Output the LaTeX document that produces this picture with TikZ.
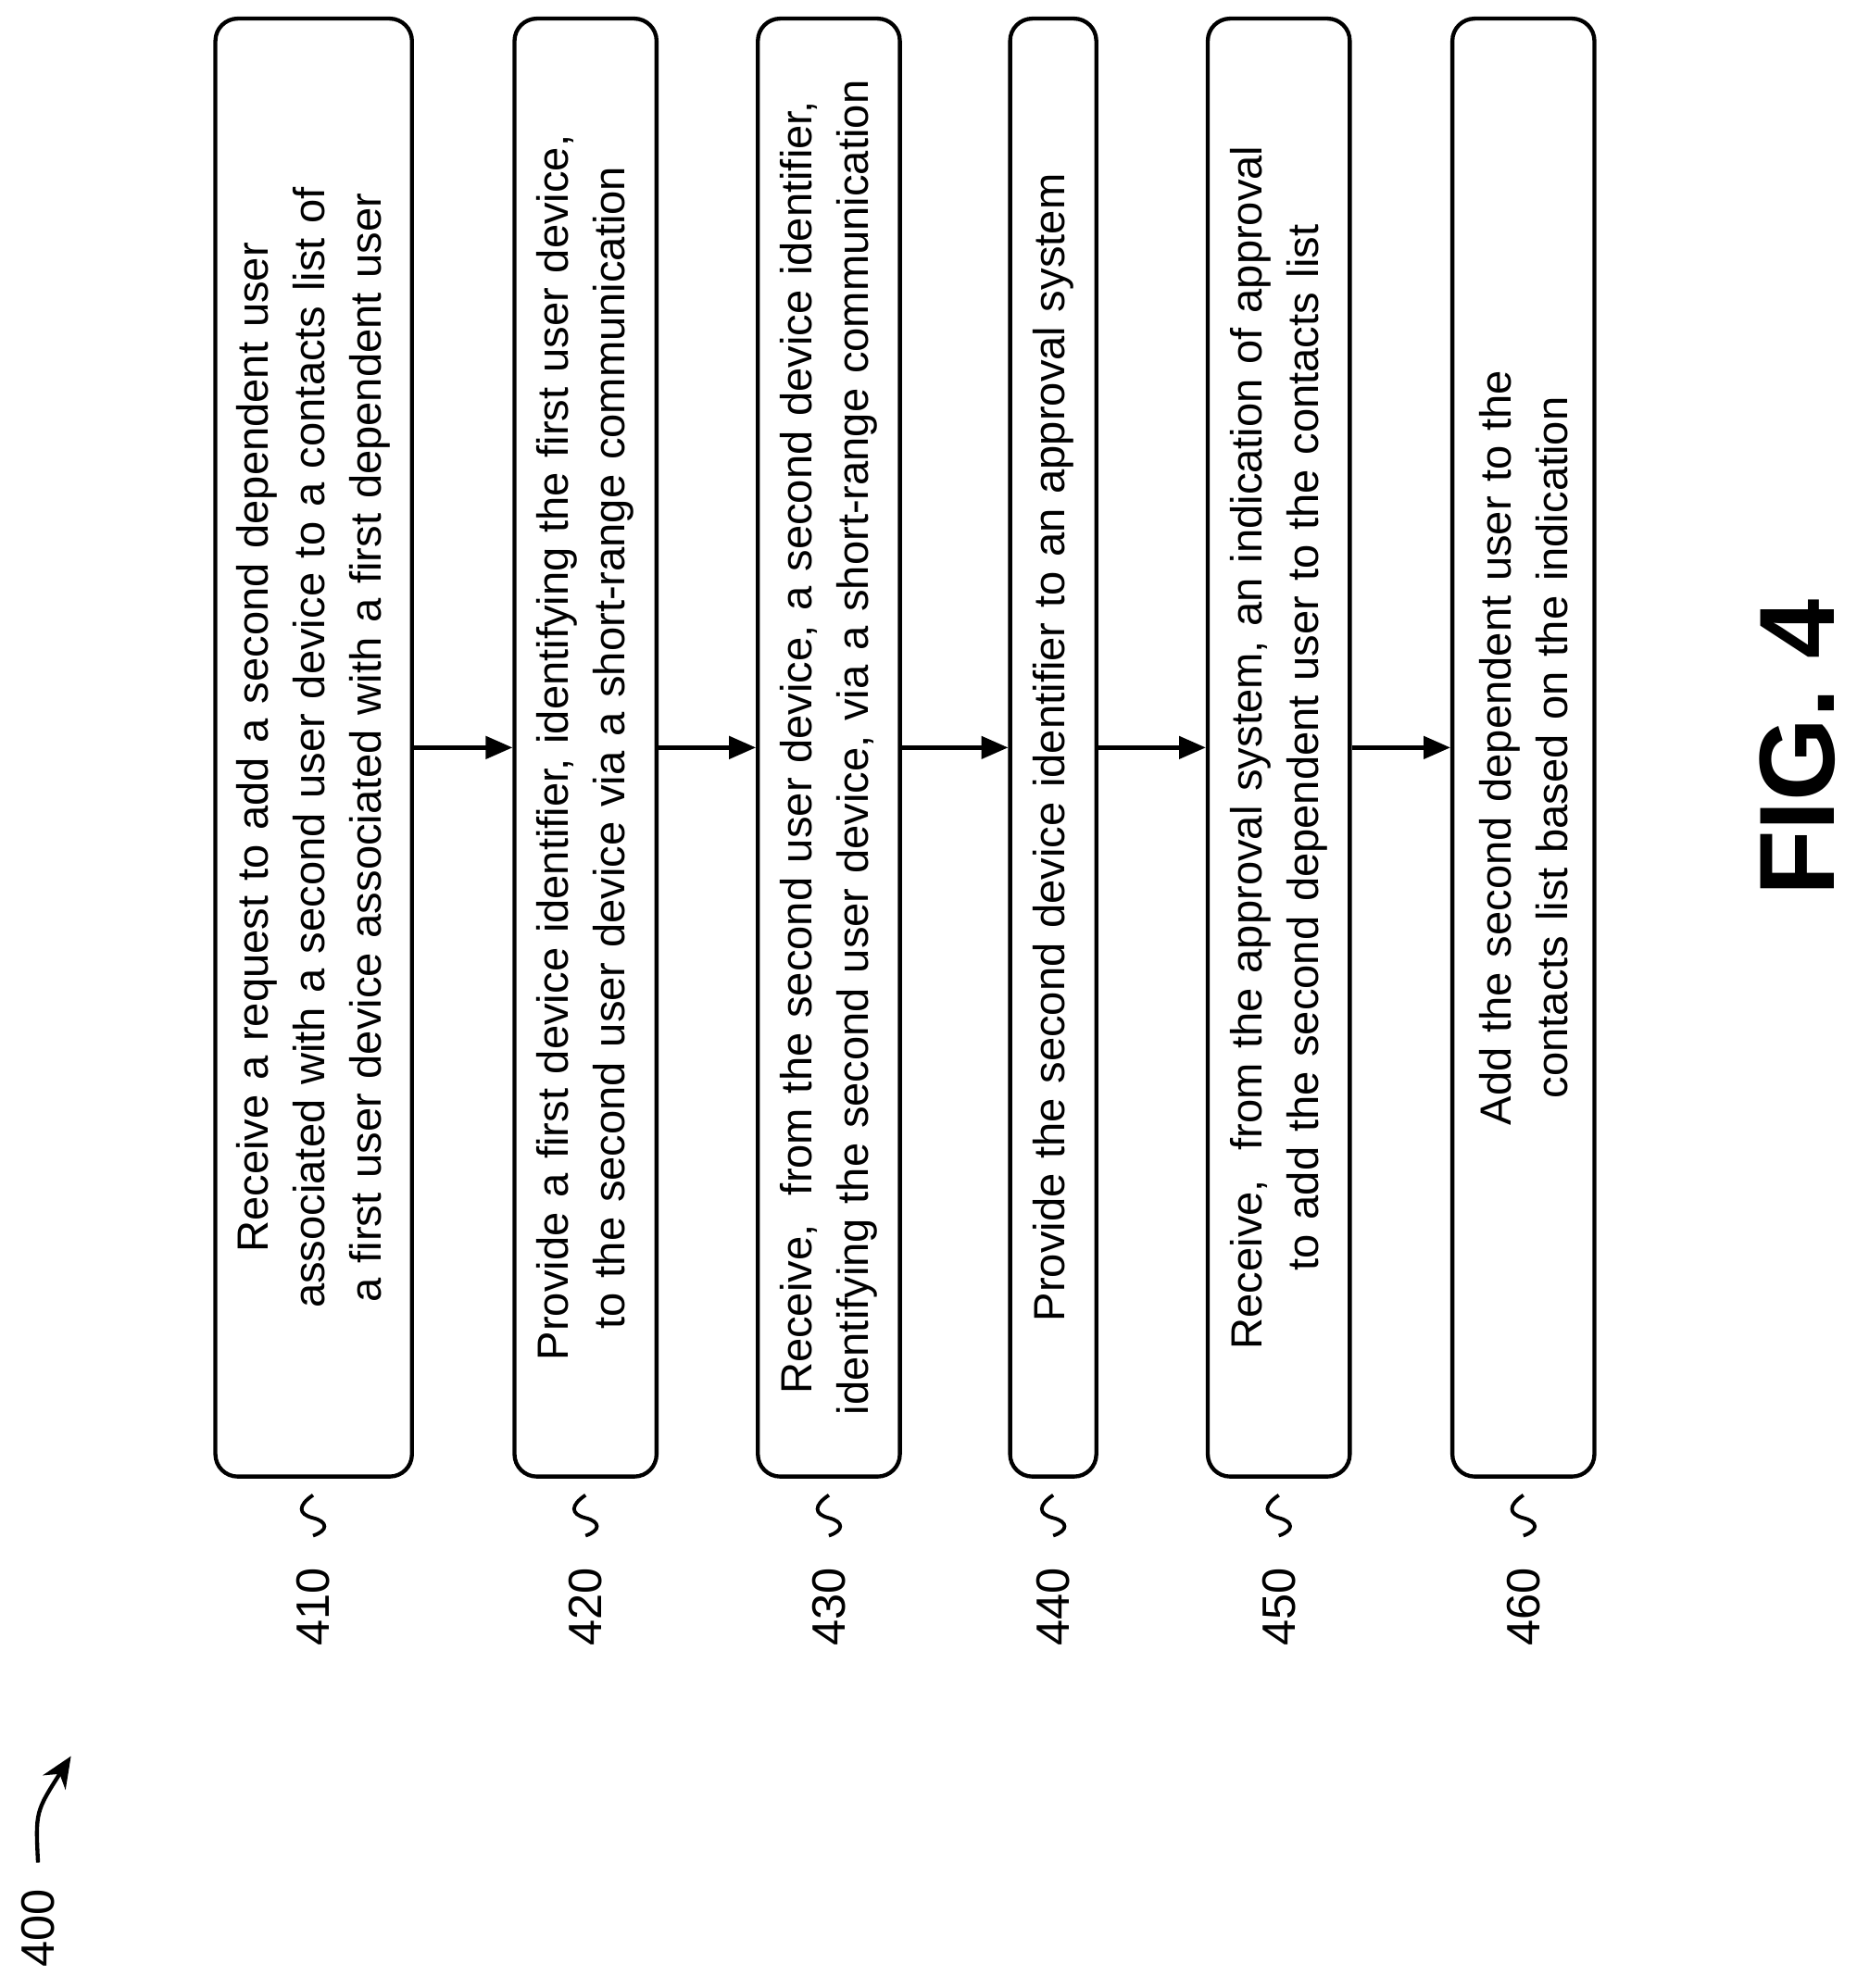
\documentclass[tikz,border=0pt]{standalone}
\usepackage{fontspec}
\setmainfont{Liberation Sans}
\usetikzlibrary{arrows.meta}
\begin{document}
\begin{tikzpicture}[x=0.01cm,y=-0.01cm,
  stepbox/.style={draw,line width=0.9pt,rounded corners=5pt,rotate=90,minimum width=11.5cm,
    text width=11.3cm,align=center,inner sep=2pt,font=\fontsize{9.8}{12.7}\selectfont,
    execute at begin node={\hyphenpenalty=10000\relax\exhyphenpenalty=10000\relax}},
  flow/.style={-{Triangle[length=6pt,width=5pt]},line width=0.9pt},
  lbl/.style={rotate=90,font=\fontsize{10.5}{12}\selectfont},
  sq/.style={line width=0.8pt}]
\useasboundingbox (0,0) rectangle (1465,1569);
\node[stepbox,minimum height=1.55cm] (s410) at (247.5,590) {Receive a request to add a second dependent user associated with a second user device to a contacts list of a first user device associated with a first dependent user};
\node[stepbox,minimum height=1.12cm] (s420) at (462,590) {Provide a first device identifier, identifying the first user device, to the second user device via a short-range communication};
\node[stepbox,minimum height=1.12cm] (s430) at (654,590) {Receive,~ from the second user device, a second device identifier, identifying the second user device, via a short-range communication};
\node[stepbox,minimum height=0.68cm] (s440) at (831,590) {Provide the second device identifier to an approval system};
\node[stepbox,minimum height=1.12cm] (s450) at (1009,590) {Receive,~ from the approval system, an indication of approval to add the second dependent user to the contacts list};
\node[stepbox,minimum height=1.12cm] (s460) at (1202,590) {Add the second dependent user to the contacts list based on the indication};
\foreach \a/\b in {s410/s420,s420/s430,s430/s440,s440/s450,s450/s460}
  \draw[flow] (\a.south) -- (\b.north);
\foreach \n/\x in {410/247,420/462,430/654,440/831,450/1009,460/1202}{
  \node[lbl] (l\n) at (\x,1268) {\n};
  \coordinate (q\n) at (\x,1180);
  \draw[sq] (q\n) .. controls (\x-12,1188) and (\x-12,1195) .. (\x,1198) .. controls (\x+12,1201) and (\x+12,1208) .. (\x,1212);
}
\node[lbl] (l400) at (30,1522) {400};
\coordinate (c1) at (30,1470);
\coordinate (c2) at (56,1386);
\draw[line width=0.9pt,-{Stealth[length=7pt,width=6pt]}] (c1) .. controls (28,1430) .. (c2);
\node[rotate=90,font=\fontsize{24}{28}\selectfont\bfseries] (fig) at (1418,590) {FIG. 4};
\end{tikzpicture}
\end{document}
